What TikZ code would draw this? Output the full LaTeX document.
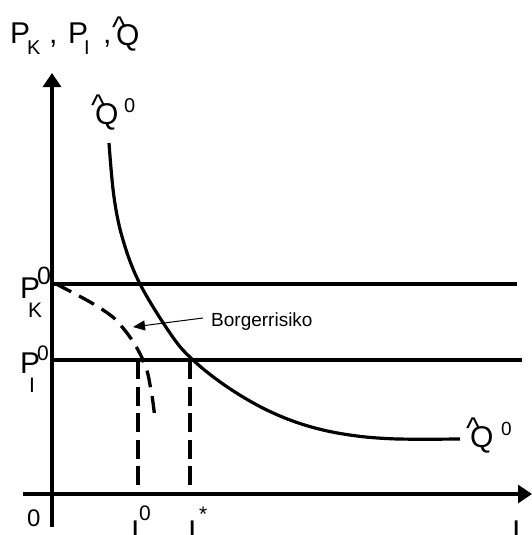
\documentclass[tikz,border=0pt]{standalone}
\usepackage{fontspec}
\setmainfont{Liberation Sans}
\usetikzlibrary{arrows.meta}
\newcommand\fsz[1]{\fontsize{#1}{#1}\selectfont}
\newcommand\hatQ{\makebox[0pt][l]{\kern-0.14em\raisebox{0.3em}{\textasciicircum}}Q}
\begin{document}
\begin{tikzpicture}[x=1pt,y=-1pt,
  axis/.style={line width=3.2pt,-{Triangle[length=14pt,width=18pt]}},
  level/.style={line width=3.2pt},
  curve/.style={line width=3.2pt},
  dashcurve/.style={line width=3.3pt,dash pattern=on 17pt off 9pt},
  dropline/.style={line width=3.4pt,dash pattern=on 19pt off 7.5pt},
  lbl/.style={inner sep=0pt,anchor=base west},
  pointer/.style={line width=1pt,-{Triangle[length=12pt,width=10pt]}}]
\useasboundingbox (0,0) rectangle (532,535);
% axes
\coordinate (ybot) at (52,527);
\coordinate (ytop) at (52,73);
\coordinate (xleft) at (23,494);
\coordinate (xright) at (532,494);
\draw[axis] (ybot) -- (ytop);
\draw[axis] (xleft) -- (xright);
% price levels
\coordinate (pk) at (52,284);
\coordinate (pkend) at (517,284);
\coordinate (pi) at (52,360);
\coordinate (piend) at (522,360);
\draw[level] (pk) -- (pkend);
\draw[level] (pi) -- (piend);
% iso curve
\draw[curve] plot[smooth,tension=0.6] coordinates {(109,143) (114,197) (123,240) (140,284) (172,336) (193,360) (223,384) (257,405) (290,420) (323,430) (357,436) (390,438.7) (423,439.2) (460,439)};
% dashed curve
\draw[dashcurve] plot[smooth,tension=0.7] coordinates {(56,284) (100,308) (123,328) (143,360) (151,390) (155,420)};
% drop lines
\coordinate (i0top) at (138,360);
\coordinate (i0bot) at (138,488);
\coordinate (istop) at (190,360);
\coordinate (isbot) at (190,488);
\draw[dropline] (i0top) -- (i0bot);
\draw[dropline] (istop) -- (isbot);
% Borgerrisiko pointer
\node[lbl] (borg) at (211,326) {\fsz{19}Borgerrisiko};
\coordinate (bstart) at (203,318);
\coordinate (btip) at (133,327);
\draw[pointer] (bstart) -- (btip);
% axis title
\node[lbl] (t1) at (10,44) {\fsz{30}P};
\node[lbl] (t2) at (27,55) {\fsz{20}K};
\node[lbl] (t3) at (49,44) {\fsz{30},};
\node[lbl] (t4) at (68,44) {\fsz{30}P};
\node[lbl] (t5) at (84,55) {\fsz{20}I};
\node[lbl] (t6) at (103,44) {\fsz{30},};
\node[lbl] (t7) at (116,46) {\fsz{30}\hatQ};
% curve labels
\node[lbl] (q1) at (95,124) {\fsz{30}\hatQ};
\node[lbl] (q1s) at (124,112) {\fsz{20}0};
\node[lbl] (q2) at (470,447) {\fsz{30}\hatQ};
\node[lbl] (q2s) at (501,435) {\fsz{19}0};
% price labels
\node[lbl] (pkP) at (20,298) {\fsz{30}P};
\node[lbl] (pkS) at (37,284) {\fsz{25}0};
\node[lbl] (pkK) at (28,317) {\fsz{21}K};
\node[lbl] (piP) at (20,373) {\fsz{30}P};
\node[lbl] (piS) at (37,360) {\fsz{21}0};
\node[lbl] (piI) at (29,392) {\fsz{21}I};
% x labels
\node[lbl] (zero) at (27,526) {\fsz{24}0};
\node[lbl] (i0) at (131,541) {\fsz{30}I};
\node[lbl] (i0s) at (139,520) {\fsz{21}0};
\node[lbl] (is) at (188,541) {\fsz{30}I};
\node[lbl] (iss) at (199,521) {\fsz{21}*};
\node[lbl] (ix) at (512,541) {\fsz{30}I};
\end{tikzpicture}
\end{document}
